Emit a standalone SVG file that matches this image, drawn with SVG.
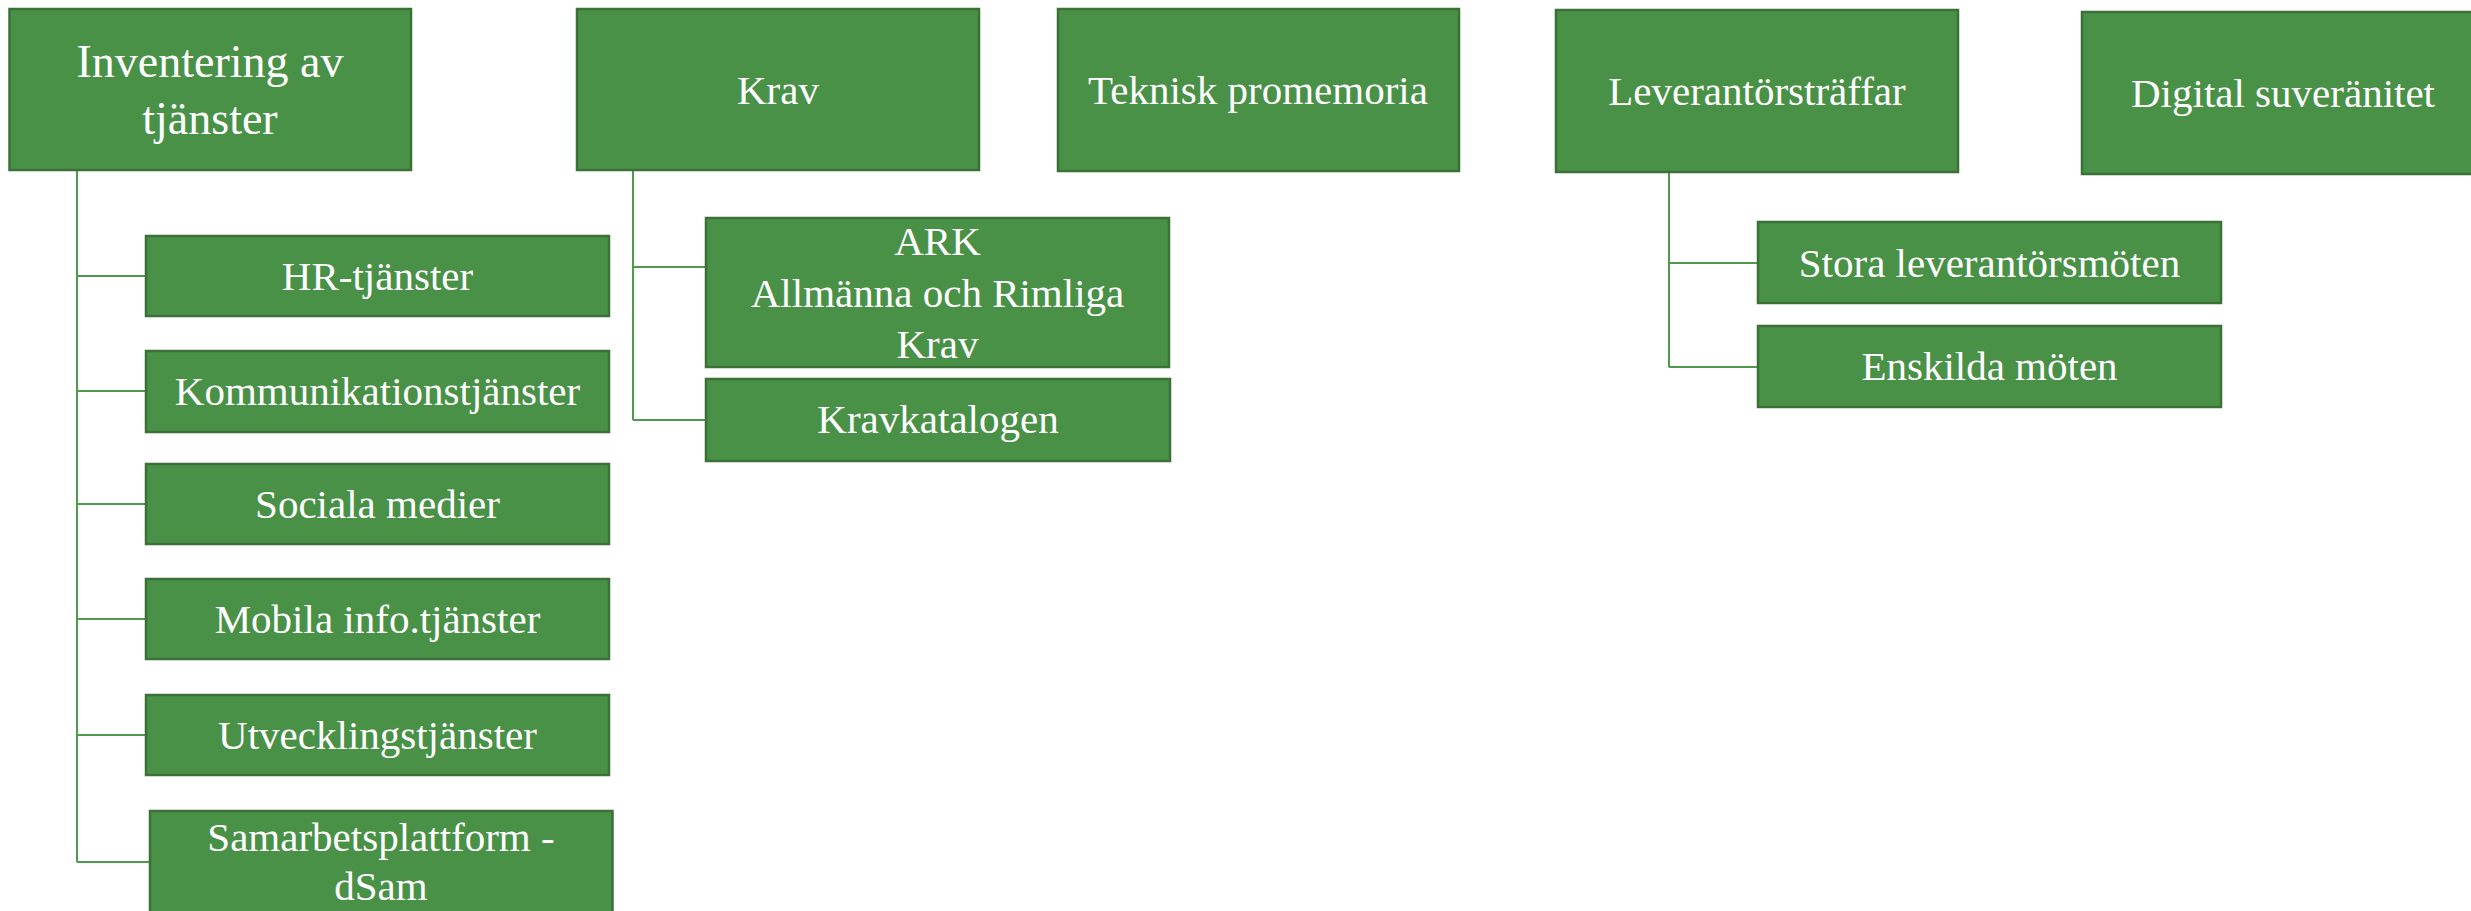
<svg xmlns="http://www.w3.org/2000/svg" width="2471" height="911" viewBox="0 0 2471 911">
<style>
.box{fill:#4a9148;stroke:#3b7036;stroke-width:2.5}
.t{fill:#ffffff;font-family:"Liberation Serif","Times New Roman",serif;font-size:41px;text-anchor:middle}
.big{font-size:46px}
.conn{stroke:#4f9a4c;stroke-width:2;fill:none}
</style>
<rect width="2471" height="911" fill="#ffffff"/>
<g id="connectors">
<path class="conn" d="M77 170V862M77 276H146M77 391H146M77 504H146M77 619H146M77 735H146M77 862H150"/>
<path class="conn" d="M633 170V420M633 267H706M633 420H706"/>
<path class="conn" d="M1669 172V367M1669 263H1758M1669 367H1758"/>
</g>
<g id="n-inventering"><rect class="box" x="9.5" y="9" width="401.5" height="161"/><text class="t big" x="210" y="77">Inventering av</text><text class="t big" x="210" y="134">tjänster</text></g>
<g id="n-krav"><rect class="box" x="577" y="9" width="402" height="161"/><text class="t" x="778" y="104">Krav</text></g>
<g id="n-teknisk"><rect class="box" x="1058" y="9" width="401" height="162"/><text class="t" x="1258" y="104">Teknisk promemoria</text></g>
<g id="n-lev"><rect class="box" x="1556" y="10" width="402" height="162"/><text class="t" x="1757" y="105">Leverantörsträffar</text></g>
<g id="n-digital"><rect class="box" x="2082" y="12" width="402" height="162"/><text class="t" x="2283" y="107">Digital suveränitet</text></g>
<g id="n-hr"><rect class="box" x="146" y="236" width="463" height="80"/><text class="t" x="377.5" y="290">HR-tjänster</text></g>
<g id="n-komm"><rect class="box" x="146" y="351" width="463" height="81"/><text class="t" x="377.5" y="405">Kommunikationstjänster</text></g>
<g id="n-sociala"><rect class="box" x="146" y="464" width="463" height="80"/><text class="t" x="377.5" y="518">Sociala medier</text></g>
<g id="n-mobila"><rect class="box" x="146" y="579" width="463" height="80"/><text class="t" x="377.5" y="633">Mobila info.tjänster</text></g>
<g id="n-utv"><rect class="box" x="146" y="695" width="463" height="80"/><text class="t" x="377.5" y="749">Utvecklingstjänster</text></g>
<g id="n-sam"><rect class="box" x="150" y="811" width="462.5" height="120"/><text class="t" x="381" y="851">Samarbetsplattform -</text><text class="t" x="381" y="900">dSam</text></g>
<g id="n-ark"><rect class="box" x="706" y="218" width="463" height="149"/><text class="t" x="937.5" y="255">ARK</text><text class="t" x="937.5" y="307">Allmänna och Rimliga</text><text class="t" x="937.5" y="358">Krav</text></g>
<g id="n-kravkat"><rect class="box" x="706" y="379" width="464" height="82"/><text class="t" x="938" y="433">Kravkatalogen</text></g>
<g id="n-stora"><rect class="box" x="1758" y="222" width="463" height="81"/><text class="t" x="1989.5" y="277">Stora leverantörsmöten</text></g>
<g id="n-enskilda"><rect class="box" x="1758" y="326" width="463" height="81"/><text class="t" x="1989.5" y="380">Enskilda möten</text></g>
</svg>
